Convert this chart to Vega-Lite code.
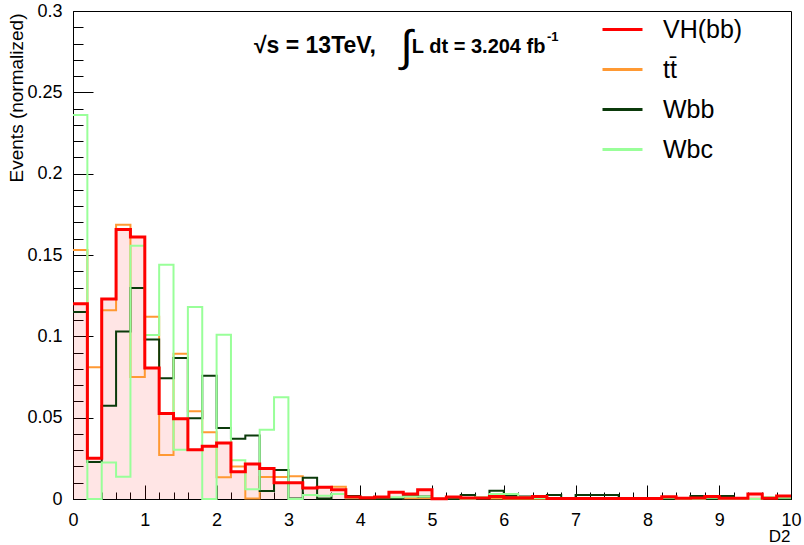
{
  "$schema": "https://vega.github.io/schema/vega-lite/v6.json",
  "width": 718,
  "height": 488,
  "autosize": "none",
  "padding": {"left": 73, "top": 11, "right": 13, "bottom": 46},
  "background": "white",
  "config": {
    "view": {"stroke": "black", "strokeWidth": 1},
    "font": "Liberation Sans",
    "axis": {"grid": false, "domainColor": "black", "tickColor": "black", "labelColor": "black", "titleColor": "black", "labelFont": "Liberation Sans", "titleFont": "Liberation Sans", "titleFontWeight": "normal"}
  },
  "datasets": {
    "h": [
      {"s":"VH(bb)","x":0,"y":0.120},{"s":"VH(bb)","x":0.2,"y":0.025},{"s":"VH(bb)","x":0.4,"y":0.123},{"s":"VH(bb)","x":0.6,"y":0.1656},{"s":"VH(bb)","x":0.8,"y":0.161},
      {"s":"VH(bb)","x":1,"y":0.0805},{"s":"VH(bb)","x":1.2,"y":0.0525},{"s":"VH(bb)","x":1.4,"y":0.0494},{"s":"VH(bb)","x":1.6,"y":0.0303},{"s":"VH(bb)","x":1.8,"y":0.0324},
      {"s":"VH(bb)","x":2,"y":0.0344},{"s":"VH(bb)","x":2.2,"y":0.0168},{"s":"VH(bb)","x":2.4,"y":0.0215},{"s":"VH(bb)","x":2.6,"y":0.0188},{"s":"VH(bb)","x":2.8,"y":0.0100},
      {"s":"VH(bb)","x":3,"y":0.0100},{"s":"VH(bb)","x":3.2,"y":0.0068},{"s":"VH(bb)","x":3.4,"y":0.0072},{"s":"VH(bb)","x":3.6,"y":0.0057},{"s":"VH(bb)","x":3.8,"y":0.0012},
      {"s":"VH(bb)","x":4,"y":0.0008},{"s":"VH(bb)","x":4.2,"y":0.0012},{"s":"VH(bb)","x":4.4,"y":0.0042},{"s":"VH(bb)","x":4.6,"y":0.0031},{"s":"VH(bb)","x":4.8,"y":0.0057},
      {"s":"VH(bb)","x":5,"y":0.0002},{"s":"VH(bb)","x":5.2,"y":0.0012},{"s":"VH(bb)","x":5.4,"y":0.0006},{"s":"VH(bb)","x":5.6,"y":0.0006},{"s":"VH(bb)","x":5.8,"y":0.0016},
      {"s":"VH(bb)","x":6,"y":0.0008},{"s":"VH(bb)","x":6.2,"y":0.0008},{"s":"VH(bb)","x":6.4,"y":0.0016},{"s":"VH(bb)","x":6.6,"y":0.0003},{"s":"VH(bb)","x":6.8,"y":0.0003},
      {"s":"VH(bb)","x":7,"y":0.0003},{"s":"VH(bb)","x":7.2,"y":0.0003},{"s":"VH(bb)","x":7.4,"y":0.0003},{"s":"VH(bb)","x":7.6,"y":0.0003},{"s":"VH(bb)","x":7.8,"y":0.0003},
      {"s":"VH(bb)","x":8,"y":0.0003},{"s":"VH(bb)","x":8.2,"y":0.0014},{"s":"VH(bb)","x":8.4,"y":0.0005},{"s":"VH(bb)","x":8.6,"y":0.0006},{"s":"VH(bb)","x":8.8,"y":0.0016},
      {"s":"VH(bb)","x":9,"y":0.0004},{"s":"VH(bb)","x":9.2,"y":0.0004},{"s":"VH(bb)","x":9.4,"y":0.0030},{"s":"VH(bb)","x":9.6,"y":0.0004},{"s":"VH(bb)","x":9.8,"y":0.0018},
      {"s":"VH(bb)","x":10,"y":0.0018},

      {"s":"tt\u0304","x":0,"y":0.153},{"s":"tt\u0304","x":0.2,"y":0.081},{"s":"tt\u0304","x":0.4,"y":0.116},{"s":"tt\u0304","x":0.6,"y":0.1686},{"s":"tt\u0304","x":0.8,"y":0.075},
      {"s":"tt\u0304","x":1,"y":0.112},{"s":"tt\u0304","x":1.2,"y":0.027},{"s":"tt\u0304","x":1.4,"y":0.0893},{"s":"tt\u0304","x":1.6,"y":0.054},{"s":"tt\u0304","x":1.8,"y":0.041},
      {"s":"tt\u0304","x":2,"y":0.0133},{"s":"tt\u0304","x":2.2,"y":0.020},{"s":"tt\u0304","x":2.4,"y":0.0003},{"s":"tt\u0304","x":2.6,"y":0.0135},{"s":"tt\u0304","x":2.8,"y":0.0135},
      {"s":"tt\u0304","x":3,"y":0.014},{"s":"tt\u0304","x":3.2,"y":0.0068},{"s":"tt\u0304","x":3.4,"y":0.0072},{"s":"tt\u0304","x":3.6,"y":0.0075},{"s":"tt\u0304","x":3.8,"y":0.0005},
      {"s":"tt\u0304","x":4,"y":0.0005},{"s":"tt\u0304","x":4.2,"y":0.0004},{"s":"tt\u0304","x":4.4,"y":0.0006},{"s":"tt\u0304","x":4.6,"y":0.0005},{"s":"tt\u0304","x":4.8,"y":0.0005},
      {"s":"tt\u0304","x":5,"y":0.0002},{"s":"tt\u0304","x":5.2,"y":0.0003},{"s":"tt\u0304","x":5.4,"y":0.0002},{"s":"tt\u0304","x":5.6,"y":0.0002},{"s":"tt\u0304","x":5.8,"y":0.0003},
      {"s":"tt\u0304","x":6,"y":0.0002},{"s":"tt\u0304","x":6.2,"y":0.0002},{"s":"tt\u0304","x":6.4,"y":0.0002},{"s":"tt\u0304","x":6.6,"y":0.0002},{"s":"tt\u0304","x":6.8,"y":0.0002},
      {"s":"tt\u0304","x":7,"y":0.0002},{"s":"tt\u0304","x":7.2,"y":0.0002},{"s":"tt\u0304","x":7.4,"y":0.0002},{"s":"tt\u0304","x":7.6,"y":0.0002},{"s":"tt\u0304","x":7.8,"y":0.0002},
      {"s":"tt\u0304","x":8,"y":0.0002},{"s":"tt\u0304","x":8.2,"y":0.0002},{"s":"tt\u0304","x":8.4,"y":0.0002},{"s":"tt\u0304","x":8.6,"y":0.0002},{"s":"tt\u0304","x":8.8,"y":0.0002},
      {"s":"tt\u0304","x":9,"y":0.0002},{"s":"tt\u0304","x":9.2,"y":0.0002},{"s":"tt\u0304","x":9.4,"y":0.0002},{"s":"tt\u0304","x":9.6,"y":0.0002},{"s":"tt\u0304","x":9.8,"y":0.0002},
      {"s":"tt\u0304","x":10,"y":0.0002},

      {"s":"Wbb","x":0,"y":0.115},{"s":"Wbb","x":0.2,"y":0.0227},{"s":"Wbb","x":0.4,"y":0.0574},{"s":"Wbb","x":0.6,"y":0.103},{"s":"Wbb","x":0.8,"y":0.1297},
      {"s":"Wbb","x":1,"y":0.098},{"s":"Wbb","x":1.2,"y":0.0742},{"s":"Wbb","x":1.4,"y":0.0867},{"s":"Wbb","x":1.6,"y":0.0496},{"s":"Wbb","x":1.8,"y":0.0758},
      {"s":"Wbb","x":2,"y":0.0436},{"s":"Wbb","x":2.2,"y":0.037},{"s":"Wbb","x":2.4,"y":0.039},{"s":"Wbb","x":2.6,"y":0.0049},{"s":"Wbb","x":2.8,"y":0.0178},
      {"s":"Wbb","x":3,"y":0.0003},{"s":"Wbb","x":3.2,"y":0.0131},{"s":"Wbb","x":3.4,"y":0.0003},{"s":"Wbb","x":3.6,"y":0.003},{"s":"Wbb","x":3.8,"y":0.0018},
      {"s":"Wbb","x":4,"y":0.0004},{"s":"Wbb","x":4.2,"y":0},{"s":"Wbb","x":4.4,"y":0.0004},{"s":"Wbb","x":4.6,"y":0.0025},{"s":"Wbb","x":4.8,"y":0.0016},
      {"s":"Wbb","x":5,"y":0},{"s":"Wbb","x":5.2,"y":0},{"s":"Wbb","x":5.4,"y":0.0025},{"s":"Wbb","x":5.6,"y":0},{"s":"Wbb","x":5.8,"y":0.005},
      {"s":"Wbb","x":6,"y":0.002},{"s":"Wbb","x":6.2,"y":0.0016},{"s":"Wbb","x":6.4,"y":0.0006},{"s":"Wbb","x":6.6,"y":0.0025},{"s":"Wbb","x":6.8,"y":0},
      {"s":"Wbb","x":7,"y":0.0025},{"s":"Wbb","x":7.2,"y":0.0025},{"s":"Wbb","x":7.4,"y":0.0025},{"s":"Wbb","x":7.6,"y":0},{"s":"Wbb","x":7.8,"y":0},
      {"s":"Wbb","x":8,"y":0},{"s":"Wbb","x":8.2,"y":0},{"s":"Wbb","x":8.4,"y":0},{"s":"Wbb","x":8.6,"y":0.0018},{"s":"Wbb","x":8.8,"y":0},
      {"s":"Wbb","x":9,"y":0.0018},{"s":"Wbb","x":9.2,"y":0},{"s":"Wbb","x":9.4,"y":0},{"s":"Wbb","x":9.6,"y":0},{"s":"Wbb","x":9.8,"y":0},
      {"s":"Wbb","x":10,"y":0},

      {"s":"Wbc","x":0,"y":0.236},{"s":"Wbc","x":0.2,"y":0},{"s":"Wbc","x":0.4,"y":0.0225},{"s":"Wbc","x":0.6,"y":0.0137},{"s":"Wbc","x":0.8,"y":0.1557},
      {"s":"Wbc","x":1,"y":0.1008},{"s":"Wbc","x":1.2,"y":0.144},{"s":"Wbc","x":1.4,"y":0.0303},{"s":"Wbc","x":1.6,"y":0.118},{"s":"Wbc","x":1.8,"y":0},
      {"s":"Wbc","x":2,"y":0.101},{"s":"Wbc","x":2.2,"y":0.0238},{"s":"Wbc","x":2.4,"y":0.006},{"s":"Wbc","x":2.6,"y":0.0426},{"s":"Wbc","x":2.8,"y":0.0625},
      {"s":"Wbc","x":3,"y":0},{"s":"Wbc","x":3.2,"y":0.0025},{"s":"Wbc","x":3.4,"y":0.002},{"s":"Wbc","x":3.6,"y":0.003},{"s":"Wbc","x":3.8,"y":0.0008},
      {"s":"Wbc","x":4,"y":0.0008},{"s":"Wbc","x":4.2,"y":0.001},{"s":"Wbc","x":4.4,"y":0.001},{"s":"Wbc","x":4.6,"y":0.0015},{"s":"Wbc","x":4.8,"y":0.0015},
      {"s":"Wbc","x":5,"y":0},{"s":"Wbc","x":5.2,"y":0.001},{"s":"Wbc","x":5.4,"y":0},{"s":"Wbc","x":5.6,"y":0.001},{"s":"Wbc","x":5.8,"y":0.003},
      {"s":"Wbc","x":6,"y":0.003},{"s":"Wbc","x":6.2,"y":0.001},{"s":"Wbc","x":6.4,"y":0.0006},{"s":"Wbc","x":6.6,"y":0},{"s":"Wbc","x":6.8,"y":0},
      {"s":"Wbc","x":7,"y":0},{"s":"Wbc","x":7.2,"y":0},{"s":"Wbc","x":7.4,"y":0},{"s":"Wbc","x":7.6,"y":0},{"s":"Wbc","x":7.8,"y":0},
      {"s":"Wbc","x":8,"y":0},{"s":"Wbc","x":8.2,"y":0.0007},{"s":"Wbc","x":8.4,"y":0},{"s":"Wbc","x":8.6,"y":0},{"s":"Wbc","x":8.8,"y":0.0007},
      {"s":"Wbc","x":9,"y":0},{"s":"Wbc","x":9.2,"y":0},{"s":"Wbc","x":9.4,"y":0},{"s":"Wbc","x":9.6,"y":0.001},{"s":"Wbc","x":9.8,"y":0.0007},
      {"s":"Wbc","x":10,"y":0.0007}
    ]
  },
  "data": {"name": "h"},
  "encoding": {
    "x": {
      "field": "x", "type": "quantitative",
      "scale": {"domain": [0, 10], "nice": false, "zero": false},
      "axis": {
        "values": [0,0.2,0.4,0.6,0.8,1,1.2,1.4,1.6,1.8,2,2.2,2.4,2.6,2.8,3,3.2,3.4,3.6,3.8,4,4.2,4.4,4.6,4.8,5,5.2,5.4,5.6,5.8,6,6.2,6.4,6.6,6.8,7,7.2,7.4,7.6,7.8,8,8.2,8.4,8.6,8.8,9,9.2,9.4,9.6,9.8,10],
        "title": "D2", "titleX": 717, "titleY": 42, "titleAlign": "right", "titleBaseline": "alphabetic", "titleFontSize": 17,
        "labelFontSize": 18, "labelOverlap": false, "labelFlush": false, "labelPadding": 26,
        "labelExpr": "abs(datum.value - round(datum.value)) < 1e-6 ? format(datum.value, 'd') : ''",
        "tickSize": {"condition": {"test": "abs(datum.value - round(datum.value)) < 1e-6", "value": -14}, "value": -7}
      }
    },
    "y": {
      "field": "y", "type": "quantitative",
      "scale": {"domain": [0, 0.3], "nice": false},
      "axis": {
        "values": [0,0.01,0.02,0.03,0.04,0.05,0.06,0.07,0.08,0.09,0.1,0.11,0.12,0.13,0.14,0.15,0.16,0.17,0.18,0.19,0.2,0.21,0.22,0.23,0.24,0.25,0.26,0.27,0.28,0.29,0.3],
        "title": "Events (normalized)", "titleX": -57, "titleY": 2, "titleAlign": "right", "titleAngle": 270, "titleBaseline": "middle", "titleFontSize": 19,
        "labelFontSize": 18, "labelOverlap": false, "labelFlush": false, "labelPadding": 31,
        "labelExpr": "abs(datum.value*20 - round(datum.value*20)) < 1e-6 ? format(datum.value, '~g') : ''",
        "tickSize": {"condition": {"test": "abs(datum.value*20 - round(datum.value*20)) < 1e-6", "value": -20}, "value": -10}
      }
    }
  },
  "layer": [
    {
      "transform": [{"filter": "datum.s === 'VH(bb)'"}],
      "mark": {"type": "area", "interpolate": "step-after", "fill": "#ff0000", "fillOpacity": 0.1}
    },
    {
      "transform": [{"filter": "datum.s === 'tt\u0304'"}],
      "mark": {"type": "line", "interpolate": "step-after", "strokeWidth": 2},
      "encoding": {"color": {"field": "s", "type": "nominal",
        "scale": {"domain": ["VH(bb)", "tt\u0304", "Wbb", "Wbc"], "range": ["#ff0000", "#ff9933", "#0b3a0b", "#99ff99"]},
        "legend": {"title": null, "orient": "none", "legendX": 528, "legendY": -3, "padding": 0, "symbolType": "stroke", "symbolSize": 1600, "symbolStrokeWidth": 3, "labelFontSize": 25, "labelFont": "Liberation Sans", "labelColor": "black", "labelOffset": 19, "rowPadding": 5, "labelLimit": 300}}}
    },
    {
      "transform": [{"filter": "datum.s === 'Wbb'"}],
      "mark": {"type": "line", "interpolate": "step-after", "strokeWidth": 2},
      "encoding": {"color": {"field": "s", "type": "nominal"}}
    },
    {
      "transform": [{"filter": "datum.s === 'Wbc'"}],
      "mark": {"type": "line", "interpolate": "step-after", "strokeWidth": 2},
      "encoding": {"color": {"field": "s", "type": "nominal"}}
    },
    {
      "transform": [{"filter": "datum.s === 'VH(bb)'"}],
      "mark": {"type": "line", "interpolate": "step-after", "strokeWidth": 3},
      "encoding": {"color": {"field": "s", "type": "nominal"}}
    },
    {
      "data": {"values": [{"tx": 2.52, "ty": 0.2744, "t": "\u221as = 13TeV,"}]},
      "mark": {"type": "text", "font": "Liberation Sans", "fontWeight": "bold", "fontSize": 23, "align": "left", "baseline": "alphabetic", "color": "black"},
      "encoding": {"x": {"field": "tx", "type": "quantitative"}, "y": {"field": "ty", "type": "quantitative"}, "text": {"field": "t", "type": "nominal"}}
    },
    {
      "data": {"values": [{"tx": 4.56, "ty": 0.2694, "t": "\u222b"}]},
      "mark": {"type": "text", "font": "Liberation Sans", "fontSize": 44, "align": "left", "baseline": "alphabetic", "color": "black"},
      "encoding": {"x": {"field": "tx", "type": "quantitative"}, "y": {"field": "ty", "type": "quantitative"}, "text": {"field": "t", "type": "nominal"}}
    },
    {
      "data": {"values": [{"tx": 6.58, "ty": 0.2744, "t": "L dt = 3.204 fb"}]},
      "mark": {"type": "text", "font": "Liberation Sans", "fontWeight": "bold", "fontSize": 20, "align": "right", "baseline": "alphabetic", "color": "black"},
      "encoding": {"x": {"field": "tx", "type": "quantitative"}, "y": {"field": "ty", "type": "quantitative"}, "text": {"field": "t", "type": "nominal"}}
    },
    {
      "data": {"values": [{"tx": 6.6, "ty": 0.2817, "t": "-1"}]},
      "mark": {"type": "text", "font": "Liberation Sans", "fontWeight": "bold", "fontSize": 13, "align": "left", "baseline": "alphabetic", "color": "black"},
      "encoding": {"x": {"field": "tx", "type": "quantitative"}, "y": {"field": "ty", "type": "quantitative"}, "text": {"field": "t", "type": "nominal"}}
    }
  ]
}
